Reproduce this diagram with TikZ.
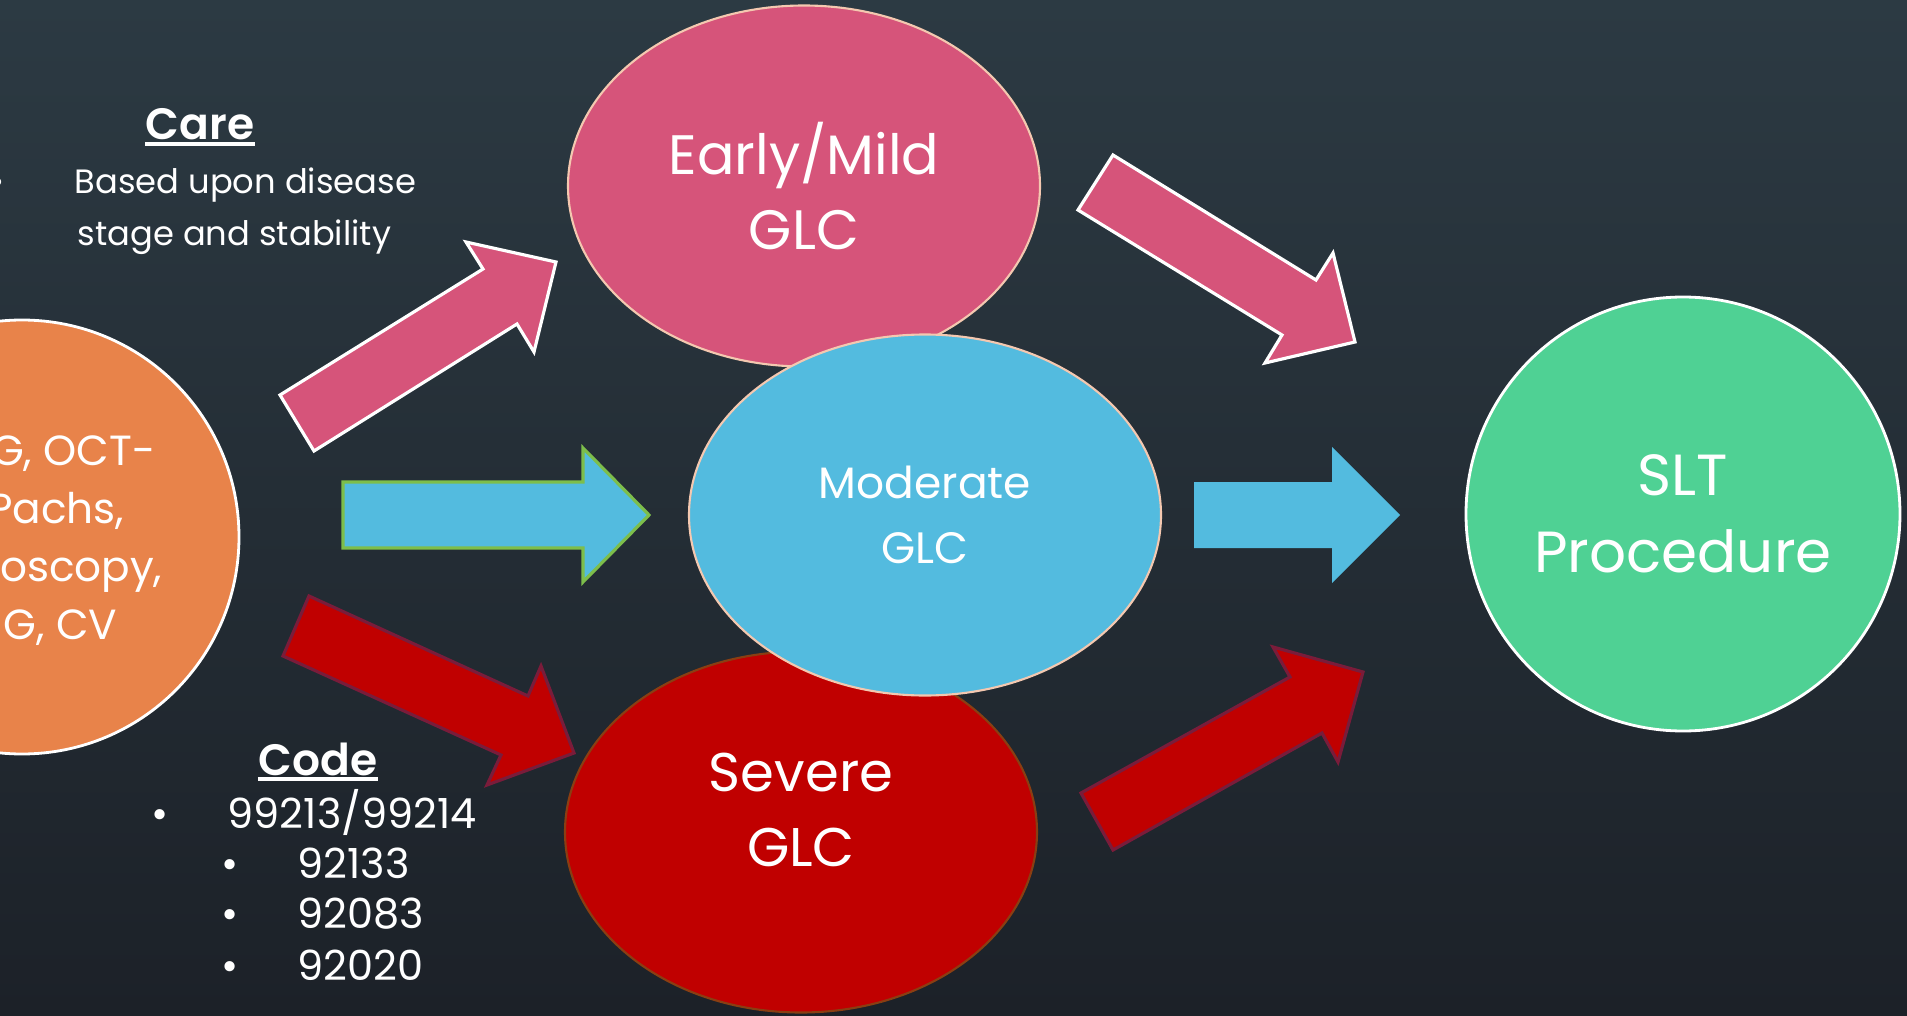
\documentclass[tikz,border=0pt]{standalone}
\usepackage{fontspec}
\setmainfont{Poppins}[BoldFont={* SemiBold}]
\usetikzlibrary{positioning,shapes.geometric}
\definecolor{bgtop}{HTML}{2C3A43}
\definecolor{bgbot}{HTML}{1C2128}
\definecolor{glcpink}{HTML}{D6547A}
\definecolor{peach}{HTML}{F4C8B0}
\definecolor{glcblue}{HTML}{53BBDF}
\definecolor{leafgreen}{HTML}{7DBE4B}
\definecolor{glcred}{HTML}{C00000}
\definecolor{wine}{HTML}{7A1C3A}
\definecolor{rust}{HTML}{8A3E12}
\definecolor{testorange}{HTML}{E8834A}
\definecolor{sltgreen}{HTML}{4FD194}

\begin{document}
\begin{tikzpicture}[
  glc/.style={ellipse,minimum width=4.72cm,minimum height=3.61cm,inner sep=0pt,line width=0.6pt,text=white,align=center},
  bigdisc/.style={circle,minimum size=4.34cm,inner sep=0pt,draw=white,line width=0.8pt,text=white,align=center},
  pinkarrow/.style={fill=glcpink,draw=white,line width=0.9pt},
  bluearrow/.style={fill=glcblue},
  redarrow/.style={fill=glcred,draw=wine,line width=0.9pt},
  headtxt/.style={text=white,inner sep=0pt,font=\bfseries\fontsize{12.5}{15}\selectfont},
  bodytxt/.style={text=white,inner sep=0pt,font=\fontsize{9.6}{14}\selectfont},
  listtxt/.style={text=white,inner sep=0pt,font=\fontsize{11.8}{14}\selectfont}]
\useasboundingbox (0,0) rectangle (19.07,10.15);
\shade[top color=bgtop,bottom color=bgbot] (0,0) rectangle (19.07,10.15);

% tests circle, cut by the left edge
\node[bigdisc,fill=testorange] (tests) at (0.22,4.78) {};
\foreach \x/\y/\txt/\nm in {1.56/5.50/{G, OCT-}/a,1.25/4.92/{Pachs,}/b,1.63/4.34/{oscopy,}/c,1.18/3.76/{G, CV}/d}{
\node[text=white,inner sep=0pt,anchor=base east,font=\fontsize{12}{16}\selectfont] (test\nm) at (\x,\y) {\txt};}

% block arrows
\draw[pinkarrow] (2.80,6.20) -- (4.83,7.46) -- (4.66,7.73) -- (5.56,7.53) -- (5.34,6.63) -- (5.17,6.91) -- (3.14,5.64) -- cycle;
\draw[bluearrow,draw=leafgreen,line width=0.9pt] (3.43,5.33) -- (5.83,5.33) -- (5.83,5.67) -- (6.49,5.00) -- (5.83,4.33) -- (5.83,4.67) -- (3.43,4.67) -- cycle;
\draw[redarrow] (3.09,4.19) -- (5.28,3.19) -- (5.41,3.49) -- (5.74,2.62) -- (4.87,2.30) -- (5.01,2.60) -- (2.83,3.59) -- cycle;
\draw[pinkarrow] (11.13,8.60) -- (13.16,7.35) -- (13.33,7.62) -- (13.55,6.73) -- (12.65,6.52) -- (12.82,6.80) -- (10.78,8.05) -- cycle;
\fill[bluearrow] (11.94,5.33) -- (13.32,5.33) -- (13.32,5.68) -- (14.00,5.00) -- (13.32,4.32) -- (13.32,4.67) -- (11.94,4.67) -- cycle;
\draw[redarrow] (10.81,2.22) -- (12.90,3.38) -- (12.73,3.68) -- (13.63,3.43) -- (13.38,2.53) -- (13.22,2.82) -- (11.13,1.65) -- cycle;

% stages
\node[glc,fill=glcpink,draw=peach,font=\fontsize{15.8}{21.3}\selectfont] (early) at (8.04,8.29) {Early/Mild\\GLC};
\node[glc,fill=glcred,draw=rust] (severe) at (8.01,1.83) {};
\node[text=white,align=center,inner sep=0pt,font=\fontsize{15.5}{21.3}\selectfont] (severetxt) at ([yshift=2.2mm]severe.center) {Severe\\GLC};
\node[glc,fill=glcblue,draw=peach,font=\fontsize{12.5}{18.5}\selectfont] (moderate) at (9.25,5.00) {Moderate\\GLC};
\node[bigdisc,fill=sltgreen,font=\fontsize{16.5}{21.9}\selectfont] (slt) at (16.83,5.01) {SLT\\Procedure};

% care note
\node[headtxt,anchor=base] (care) at (2.00,8.75) {Care};
\draw[white,line width=0.9pt] ([yshift=-0.4mm]care.base west) -- ([yshift=-0.4mm]care.base east);
\node[bodytxt,anchor=base] (carebul) at (-0.03,8.22) {•};
\node[bodytxt,anchor=base west] (care1) at (0.74,8.22) {Based upon disease};
\node[bodytxt,anchor=base west] (care2) at (0.77,7.70) {stage and stability};

% code list
\node[headtxt,anchor=base] (code) at (3.18,2.40) {Code};
\draw[white,line width=0.9pt] ([yshift=-0.4mm]code.base west) -- ([yshift=-0.4mm]code.base east);
\node[listtxt,anchor=base] (codebul) at (1.60,1.87) {•};
\node[listtxt,anchor=base west] (codea) at (2.27,1.87) {99213/99214};
\foreach \y/\txt/\nm in {1.37/92133/b,0.87/92083/c,0.35/92020/d}{
\node[listtxt,anchor=base] (bul\nm) at (2.30,\y) {•};
\node[listtxt,anchor=base west] (code\nm) at (2.97,\y) {\txt};}
\end{tikzpicture}
\end{document}
